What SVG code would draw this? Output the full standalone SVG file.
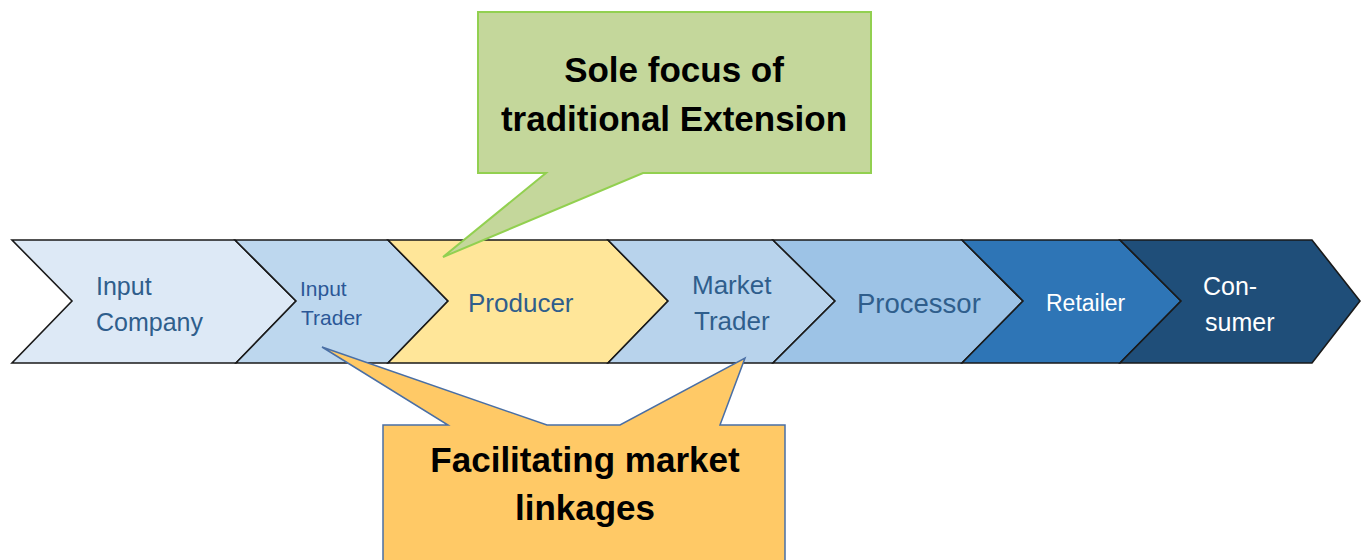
<svg xmlns="http://www.w3.org/2000/svg" width="1362" height="560" viewBox="0 0 1362 560">
<style>
.chev{stroke:#1a1a1a;stroke-width:1.6;stroke-linejoin:miter}
.lbl{font-family:"Liberation Sans",Arial,sans-serif;fill:#2f5e8c}
.wlbl{font-family:"Liberation Sans",Arial,sans-serif;fill:#ffffff}
.call{font-family:"Liberation Sans",Arial,sans-serif;font-weight:bold;fill:#000;text-anchor:middle;font-size:35px}
</style>
<rect width="1362" height="560" fill="#ffffff"/>
<g id="input-company">
<polygon class="chev" fill="#dde9f6" points="12,240 235,240 296,301 236,363 12,363 72,301"/>
<text class="lbl" font-size="25" x="96" y="295">Input</text>
<text class="lbl" font-size="25" x="96" y="331">Company</text>
</g>
<g id="input-trader">
<polygon class="chev" fill="#bdd7ee" points="235,240 388,240 448,301 388,363 236,363 296,301"/>
<text class="lbl" font-size="21" x="300" y="296" style="fill:#2b5797">Input</text>
<text class="lbl" font-size="21" x="301" y="325" style="fill:#2b5797">Trader</text>
</g>
<g id="producer">
<polygon class="chev" fill="#ffe699" points="388,240 608,240 668,301 608,363 388,363 448,301"/>
<text class="lbl" font-size="26" x="468" y="312">Producer</text>
</g>
<g id="market-trader">
<polygon class="chev" fill="#b8d3ec" points="608,240 773,240 835,301 773,363 608,363 668,301"/>
<text class="lbl" font-size="26" x="692" y="294">Market</text>
<text class="lbl" font-size="26" x="694" y="330">Trader</text>
</g>
<g id="processor">
<polygon class="chev" fill="#9dc3e6" points="773,240 962,240 1023,301 962,363 773,363 835,301"/>
<text class="lbl" font-size="27.5" x="857" y="313">Processor</text>
</g>
<g id="retailer">
<polygon class="chev" fill="#2e75b6" points="962,240 1120,240 1181,301 1120,363 962,363 1023,301"/>
<text class="wlbl" font-size="23" x="1046" y="311">Retailer</text>
</g>
<g id="consumer">
<polygon class="chev" fill="#1f4e79" points="1120,240 1312,240 1360,301 1312,363 1120,363 1181,301"/>
<text class="wlbl" font-size="25" x="1203" y="295">Con-</text>
<text class="wlbl" font-size="25" x="1205" y="331">sumer</text>
</g>
<g id="connectors">
<g id="callout-extension">
<polygon fill="#c4d79b" stroke="#92d050" stroke-width="2" points="478,12 871,12 871,173 643,173 443,257 546,173 478,173"/>
<text class="call" x="674" y="82">Sole focus of</text>
<text class="call" x="674" y="131">traditional Extension</text>
</g>
<g id="callout-market">
<polygon fill="#ffc966" stroke="#4a6fa5" stroke-width="1.5" points="383,425 448,425 322,347 547,425 620,425 745,358 720,425 785,425 785,570 383,570"/>
<text class="call" x="585" y="472">Facilitating market</text>
<text class="call" x="585" y="520">linkages</text>
</g>
</g>
</svg>
